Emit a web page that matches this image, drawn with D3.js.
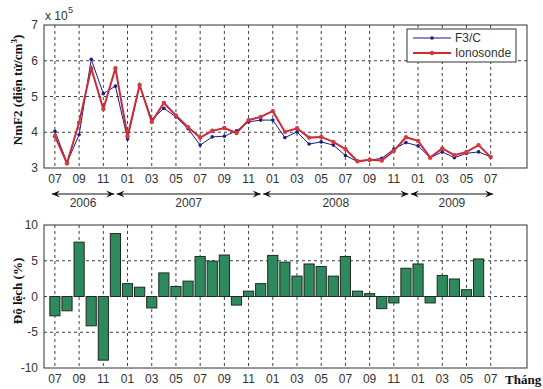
<!DOCTYPE html>
<html>
<head>
<meta charset="utf-8">
<script src="https://cdn.jsdelivr.net/npm/d3@7"></script>
<style>
  html, body { margin: 0; padding: 0; background: #fff; }
  svg { display: block; }
  .tick-label { font-family: "Liberation Sans", Arial, sans-serif; font-size: 12px; fill: #333; }
  .axis-title { font-family: "Liberation Serif", "Times New Roman", serif; font-size: 13px; font-weight: bold; fill: #111; }
</style>
</head>
<body>
<svg id="chart" width="543" height="389"></svg>
<script>
// Month index 0 = 07/2006 ... 36 = 07/2009
const monthTicks = [0, 2, 4, 6, 8, 10, 12, 14, 16, 18, 20, 22, 24, 26, 28, 30, 32, 34, 36];
const monthLabels = ["07","09","11","01","03","05","07","09","11","01","03","05","07","09","11","01","03","05","07"];

// NmF2 (x 10^5 electrons/cm^3)
const f3c = [4.03,3.15,3.93,6.04,5.08,5.29,3.81,5.31,4.35,4.67,4.43,4.10,3.64,3.87,3.89,4.04,4.29,4.34,4.34,3.85,4.01,3.67,3.73,3.64,3.35,3.18,3.22,3.27,3.53,3.71,3.62,3.29,3.45,3.29,3.41,3.45,3.31];
const ionosonde = [3.89,3.13,4.27,5.79,4.65,5.79,3.89,5.32,4.29,4.82,4.47,4.14,3.85,4.04,4.12,3.98,4.34,4.43,4.59,4.01,4.11,3.85,3.87,3.73,3.53,3.19,3.23,3.21,3.48,3.86,3.76,3.29,3.55,3.36,3.45,3.64,3.31];

// Relative deviation (%) per month
const deviation = [-2.7,-2.0,7.6,-4.1,-8.9,8.8,1.8,1.3,-1.6,3.3,1.4,2.15,5.6,4.95,5.8,-1.2,0.75,1.8,5.75,4.8,2.85,4.55,4.2,2.85,5.6,0.75,0.4,-1.7,-0.9,3.95,4.55,-0.9,2.95,2.45,0.95,5.25];

const topTicks = [3, 4, 5, 6, 7];
const bottomTicks = [-10, -5, 0, 5, 10];

// Year spans in month-index units
const years = ["2006", "2007", "2008", "2009"];
const yearStart = [-0.25, 5.1, 17.2, 29.4];
const yearEnd = [4.9, 17.0, 29.2, 36.2];

const svg = d3.select("#chart");
const left = 44, right = 527;
const x = d3.scaleLinear().domain([-0.9, 39]).range([left, right]);

const topBox = { y0: 25, y1: 168 };
const botBox = { y0: 225, y1: 368 };
const yTop = d3.scaleLinear().domain([3, 7]).range([topBox.y1, topBox.y0]);
const yBot = d3.scaleLinear().domain([-10, 10]).range([botBox.y1, botBox.y0]);

function panel(y, box, yTicks, gridY) {
  const g = svg.append("g");
  // dashed grid
  g.selectAll("line.gx").data(monthTicks).join("line")
    .attr("x1", d => x(d)).attr("x2", d => x(d))
    .attr("y1", box.y0).attr("y2", box.y1)
    .attr("stroke", "#111").attr("stroke-width", 0.8).attr("stroke-dasharray", "3,3");
  g.selectAll("line.gy").data(gridY).join("line")
    .attr("x1", left).attr("x2", right)
    .attr("y1", d => y(d)).attr("y2", d => y(d))
    .attr("stroke", "#111").attr("stroke-width", 0.8).attr("stroke-dasharray", "3,3");
  // x tick labels
  g.selectAll("text.xl").data(monthTicks).join("text")
    .attr("class", "tick-label")
    .attr("x", d => x(d)).attr("y", box.y1 + 15)
    .attr("text-anchor", "middle")
    .text((d, i) => monthLabels[i]);
  // y tick labels
  g.selectAll("text.yl").data(yTicks).join("text")
    .attr("class", "tick-label")
    .attr("x", left - 6).attr("y", d => y(d) + 4)
    .attr("text-anchor", "end")
    .text(d => d);
  return g;
}

function frame(box) {
  svg.append("rect")
    .attr("x", left).attr("y", box.y0)
    .attr("width", right - left).attr("height", box.y1 - box.y0)
    .attr("fill", "none").attr("stroke", "#333").attr("stroke-width", 1);
}

// ---------- Top panel: NmF2 ----------
panel(yTop, topBox, topTicks, [4, 5, 6]);

const line = d3.line().x((d, i) => x(i)).y(d => yTop(d));
svg.append("path").datum(f3c).attr("d", line)
  .attr("fill", "none").attr("stroke", "#1c1c8a").attr("stroke-width", 1);
svg.selectAll("circle.f3c").data(f3c).join("circle")
  .attr("cx", (d, i) => x(i)).attr("cy", d => yTop(d)).attr("r", 1.8)
  .attr("fill", "#1c1c8a");

svg.append("path").datum(ionosonde).attr("d", line)
  .attr("fill", "none").attr("stroke", "#cc2a36").attr("stroke-width", 2);
svg.selectAll("circle.iono").data(ionosonde).join("circle")
  .attr("cx", (d, i) => x(i)).attr("cy", d => yTop(d)).attr("r", 2.2)
  .attr("fill", "#d83a3a");

frame(topBox);

// exponent
svg.append("text").attr("class", "tick-label").attr("x", left + 1).attr("y", 20).text("x 10");
svg.append("text").attr("class", "tick-label").attr("x", left + 24).attr("y", 13)
  .style("font-size", "9px").text("5");

// legend
const lg = svg.append("g");
lg.append("rect").attr("x", 407).attr("y", 29).attr("width", 109).attr("height", 33)
  .attr("fill", "#fff").attr("stroke", "#333").attr("stroke-width", 1);
const legendItems = [
  { name: "F3/C", color: "#1c1c8a", w: 1, r: 1.8, fill: "#1c1c8a" },
  { name: "Ionosonde", color: "#cc2a36", w: 2, r: 2.2, fill: "#d83a3a" }
];
legendItems.forEach((it, i) => {
  const yy = 38 + i * 15;
  lg.append("line").attr("x1", 413).attr("x2", 451).attr("y1", yy).attr("y2", yy)
    .attr("stroke", it.color).attr("stroke-width", it.w);
  lg.append("circle").attr("cx", 432).attr("cy", yy).attr("r", it.r).attr("fill", it.fill);
  lg.append("text").attr("class", "tick-label").attr("x", 455).attr("y", yy + 4).text(it.name);
});

// year arrows
const arrowY = 194;
function arrowHead(xTip, dir) {
  const L = 8, H = 3.5, notch = 3;
  const xb = xTip - dir * L;
  return `M${xTip},${arrowY} L${xb},${arrowY - H} L${xb + dir * notch},${arrowY} L${xb},${arrowY + H} Z`;
}
years.forEach((yr, i) => {
  const xa = x(yearStart[i]), xb = x(yearEnd[i]);
  svg.append("line").attr("x1", xa).attr("x2", xb).attr("y1", arrowY).attr("y2", arrowY)
    .attr("stroke", "#111").attr("stroke-width", 1);
  svg.append("path").attr("d", arrowHead(xa, -1)).attr("fill", "#111");
  svg.append("path").attr("d", arrowHead(xb, 1)).attr("fill", "#111");
  svg.append("text").attr("class", "tick-label")
    .attr("x", (xa + xb) / 2).attr("y", 207).attr("text-anchor", "middle").text(yr);
});

// ---------- Bottom panel: deviation ----------
panel(yBot, botBox, bottomTicks, [-5, 0, 5]);

const bw = (x(1) - x(0)) * 0.84;
svg.selectAll("rect.bar").data(deviation).join("rect")
  .attr("x", (d, i) => x(i) - bw / 2)
  .attr("width", bw)
  .attr("y", d => yBot(Math.max(0, d)))
  .attr("height", d => Math.abs(yBot(d) - yBot(0)))
  .attr("fill", "#2e8a5c").attr("stroke", "#1e2a22").attr("stroke-width", 1);

frame(botBox);

// axis titles
svg.append("text").attr("class", "axis-title")
  .attr("transform", "translate(22,90) rotate(-90)")
  .attr("text-anchor", "middle")
  .html("NmF2 (điện tử/cm<tspan dy='-5' font-size='9px'>3</tspan><tspan dy='5'>)</tspan>");
svg.append("text").attr("class", "axis-title")
  .attr("transform", "translate(22,291) rotate(-90)")
  .attr("text-anchor", "middle")
  .text("Độ lệch (%)");
svg.append("text").attr("class", "axis-title")
  .attr("x", 505).attr("y", 384).text("Tháng");
</script>
</body>
</html>
